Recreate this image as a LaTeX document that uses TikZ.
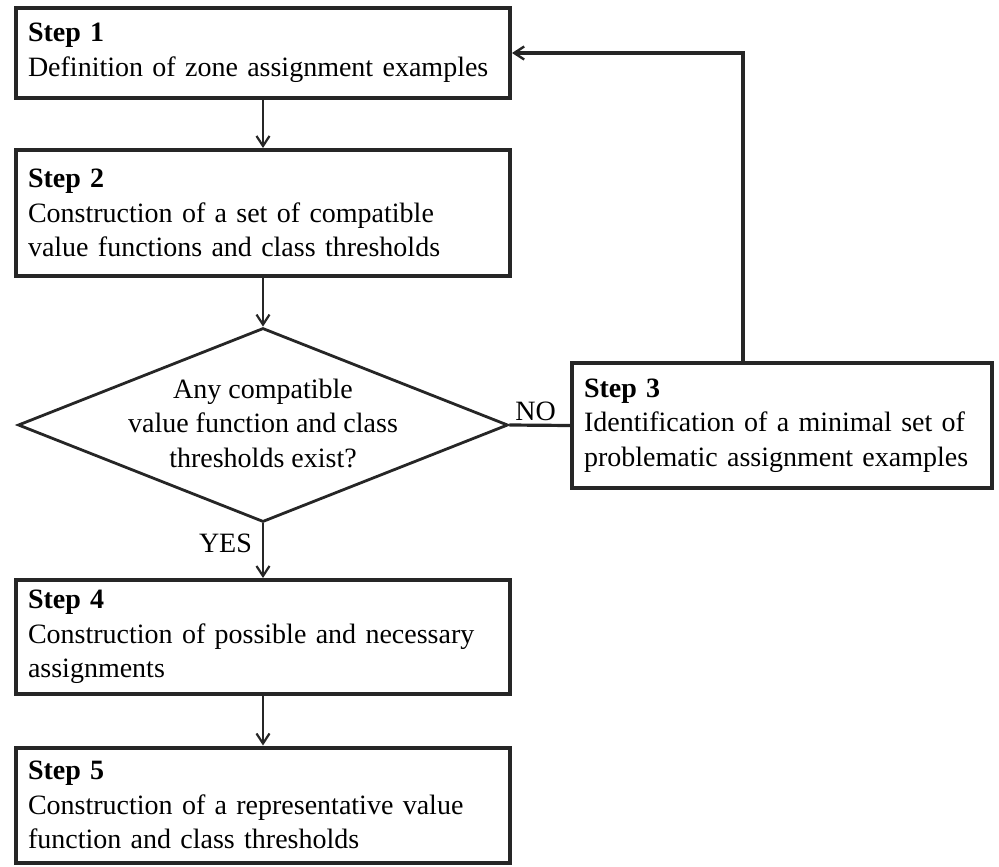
\documentclass[tikz,border=0pt]{standalone}
\usepackage{fontspec}
\setmainfont{Liberation Serif}
\usetikzlibrary{shapes.geometric,arrows.meta}
\begin{document}
\begin{tikzpicture}[x=1pt,y=-1pt,
  txt/.style={font=\fontsize{28}{34.5}\selectfont},
  stepbox/.style={txt, draw=black!85, line width=4pt, rectangle, align=left,
    inner xsep=12pt, inner ysep=0pt, anchor=center},
  arr/.style={draw=black!85, line width=2.2pt, -{Straight Barb[length=10pt,width=13pt,line width=2.2pt]}},
  fbarr/.style={draw=black!85, line width=3.2pt, -{Straight Barb[length=10pt,width=13pt,line width=2.4pt]}},
  plain/.style={draw=black!85, line width=3.2pt}]
\useasboundingbox (0,0) rectangle (999,867);
\node[stepbox, text width=470pt, minimum height=90pt] (s1) at (263,53)
  {\textbf{Step 1}\\Definition of zone assignment examples};
\node[stepbox, text width=470pt, minimum height=126pt] (s2) at (263,213)
  {\textbf{Step 2}\\Construction of a set of compatible\\value functions and class thresholds};
\node[diamond, draw=black!85, line width=2.8pt, minimum width=490pt, minimum height=194pt, inner sep=0pt] (dec) at (263,425) {};
\node[txt, align=center] (dtext) at (263,423) {Any compatible\\value function and class\\thresholds exist?};
\node[stepbox, text width=396pt, minimum height=125pt] (s3) at (782,425.5)
  {\textbf{Step 3}\\Identification of a minimal set of\\problematic assignment examples};
\node[stepbox, text width=470pt, minimum height=114pt] (s4) at (263,637)
  {\textbf{Step 4}\\Construction of possible and necessary\\assignments};
\node[stepbox, text width=470pt, minimum height=115pt] (s5) at (263,805)
  {\textbf{Step 5}\\Construction of a representative value\\function and class thresholds};
\coordinate (fb) at (743,52);
\draw[arr] (s1) -- (s2);
\draw[arr] (s2) -- (dec);
\draw[arr] (dec) -- node[txt, left, inner xsep=10pt, yshift=7pt] (yes) {YES} (s4);
\draw[plain] (dec.east) -- node[txt, above, inner ysep=3pt, xshift=-4pt] (no) {NO} (s3.west);
\draw[fbarr] (s3.north -| fb) |- (s1.east);
\draw[arr] (s4) -- (s5);
\end{tikzpicture}
\end{document}
